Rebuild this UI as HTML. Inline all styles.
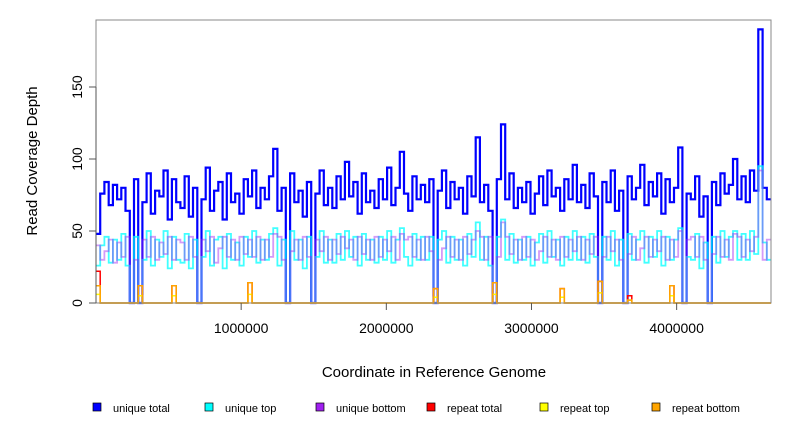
<!DOCTYPE html>
<html><head><meta charset="utf-8"><style>
body{margin:0;background:#fff;}
svg{display:block;font-family:"Liberation Sans",Arial,sans-serif;}
</style></head><body>
<svg id="chart" width="792" height="432" viewBox="0 0 792 432">
<g id="plot"></g>
<rect x="96" y="20" width="675" height="283" fill="none" stroke="#888" stroke-width="1"/>
<g id="axes"></g>
<text x="434" y="377" font-size="15" text-anchor="middle">Coordinate in Reference Genome</text>
<text transform="translate(37,161) rotate(-90)" font-size="15" text-anchor="middle">Read Coverage Depth</text>
<g id="legend"></g>
</svg>
<script>
const genomeLength = 4650000;
const totalValues = [48,76,84,68,82,72,80,64,0,86,0,70,90,62,78,74,92,58,86,70,
66,88,60,80,0,72,94,64,78,84,58,90,70,76,62,86,74,92,66,80,
72,88,107,64,80,0,90,70,78,60,84,0,76,92,68,80,66,88,72,98,
74,84,62,90,70,78,66,86,72,94,68,80,105,76,64,88,72,82,70,86,
0,78,92,66,84,72,80,62,88,74,115,70,82,64,0,86,124,72,90,66,
80,70,84,62,76,88,68,92,74,80,64,86,72,96,70,82,66,90,74,0,
84,70,92,64,78,0,88,72,80,96,68,84,74,90,62,86,70,80,108,0,
76,72,88,60,74,0,84,68,90,76,82,100,72,88,70,92,78,190,80,72];
const topValues = [26,40,46,28,44,30,48,26,0,46,0,30,50,26,44,32,50,24,46,30,
28,48,24,44,0,32,50,26,44,46,24,48,30,42,26,46,32,50,28,44,
30,48,52,26,44,0,50,30,44,24,46,0,32,50,28,44,28,48,30,50,
32,46,26,48,30,44,28,46,30,50,28,44,52,32,26,48,30,46,30,46,
0,44,50,28,46,30,44,26,48,32,56,30,46,26,0,46,58,30,48,28,
44,30,46,26,42,48,28,50,32,44,26,46,30,50,30,46,28,48,32,0,
46,30,50,26,44,0,48,30,44,50,28,46,32,50,26,46,30,44,52,0,
32,30,48,24,42,0,46,28,50,32,46,50,30,48,30,50,34,95,42,30];
const bottomValues = [40,30,36,44,28,42,32,46,0,30,0,44,32,46,30,42,34,46,30,44,
42,30,46,32,0,44,36,46,28,38,46,32,44,30,46,34,44,32,46,30,
44,32,48,46,30,0,36,44,30,46,32,0,44,36,46,30,44,34,46,38,
44,30,46,34,44,30,46,32,44,36,46,30,48,44,46,32,44,30,46,36,
0,30,38,46,32,44,30,46,34,44,50,46,30,46,0,32,56,46,34,44,
30,46,32,44,30,36,46,32,44,30,46,32,44,36,46,30,44,34,46,0,
32,46,36,44,30,0,34,46,30,38,46,32,44,36,46,30,44,32,50,0,
44,46,32,46,30,0,34,46,32,44,30,48,46,32,44,36,46,92,30,44];
const repeatBins = [0,10,18,36,80,94,110,119,126,136];
const repeatTotalValues = [22,12,12,14,10,14,10,15,5,12];
const repeatTopValues = [6,5,5,6,4,6,4,7,2,5];
const repeatBottomValues = [12,12,12,14,10,14,10,15,2,12];
const xTicks = [1000000,2000000,3000000,4000000];
const yTicks = [0,50,100,150];
const legendLabels = ["unique total","unique top","unique bottom","repeat total","repeat top","repeat bottom"];
const legendColors = ["#0000ff","#00ffff","#a020f0","#ff0000","#ffff00","#ffa500"];

const NS="http://www.w3.org/2000/svg";
const X0=96,X1=771,Y0=303;
function xs(v){return X0+v/genomeLength*(X1-X0);}
function ys(v){return Y0-v*1.44;}
const binW=genomeLength/totalValues.length;
const plot=document.getElementById('plot');
function stepPath(vals,color,opacity,name,w){
  let d='';
  vals.forEach((v,i)=>{const xa=xs(i*binW),xb=xs((i+1)*binW),y=ys(v);
    d+=(i===0?'M':'L')+xa.toFixed(1)+','+y.toFixed(1)+'L'+xb.toFixed(1)+','+y.toFixed(1);});
  const p=document.createElementNS(NS,'path');
  p.setAttribute('d',d);p.setAttribute('fill','none');p.setAttribute('stroke',color);
  p.setAttribute('stroke-width',w);p.setAttribute('opacity',opacity);
  
  
  plot.appendChild(p);
}
function sparse(vals){const a=new Array(totalValues.length).fill(0);repeatBins.forEach((b,i)=>a[b]=vals[i]);return a;}
stepPath(totalValues,'#0000ff',1,'unique-total-line','2.2');
stepPath(topValues,'#00ffff',0.75,'unique-top-line','1.8');
stepPath(bottomValues,'#a020f0',0.45,'unique-bottom-line','1.8');
stepPath(sparse(repeatTotalValues),'#ff0000',1,'repeat-total-line','1.5');
stepPath(sparse(repeatTopValues),'#ffff00',1,'repeat-top-line','1.5');
stepPath(sparse(repeatBottomValues),'#ffa500',1,'repeat-bottom-line','1.5');

const axes=document.getElementById('axes');
function line(x1,y1,x2,y2,name){const l=document.createElementNS(NS,'line');
  l.setAttribute('x1',x1);l.setAttribute('y1',y1);l.setAttribute('x2',x2);l.setAttribute('y2',y2);
  l.setAttribute('stroke','#555');
  
  
  axes.appendChild(l);}
function text(x,y,s,anchor,size,rot,name,parent){const t=document.createElementNS(NS,'text');
  t.setAttribute('x',x);t.setAttribute('y',y);t.setAttribute('text-anchor',anchor);t.setAttribute('font-size',size);
  if(rot)t.setAttribute('transform','rotate(-90 '+x+' '+y+')');
  t.textContent=s;
  
  
  (parent||axes).appendChild(t);}
line(X0,ys(0),X0,ys(150),'y-axis-line');
yTicks.forEach(v=>{line(X0-7,ys(v),X0,ys(v),'y-tick');text(X0-14,ys(v),String(v),'middle',14,true,'y-tick-label');});
xTicks.forEach(v=>{line(xs(v),Y0,xs(v),Y0+7,'x-tick');text(xs(v),Y0+30,String(v),'middle',14,false,'x-tick-label');});

const legend=document.getElementById('legend');
const lx=[93,205,316,427,540,652];
legendLabels.forEach((s,i)=>{
  const r=document.createElementNS(NS,'rect');
  r.setAttribute('x',lx[i]);r.setAttribute('y',403);r.setAttribute('width',8);r.setAttribute('height',8);
  r.setAttribute('fill',legendColors[i]);r.setAttribute('stroke','#000');r.setAttribute('stroke-width','0.7');
  
  
  legend.appendChild(r);
  text(lx[i]+20,412,s,'start',11,false,'legend-entry',legend);
});
</script>
</body></html>
